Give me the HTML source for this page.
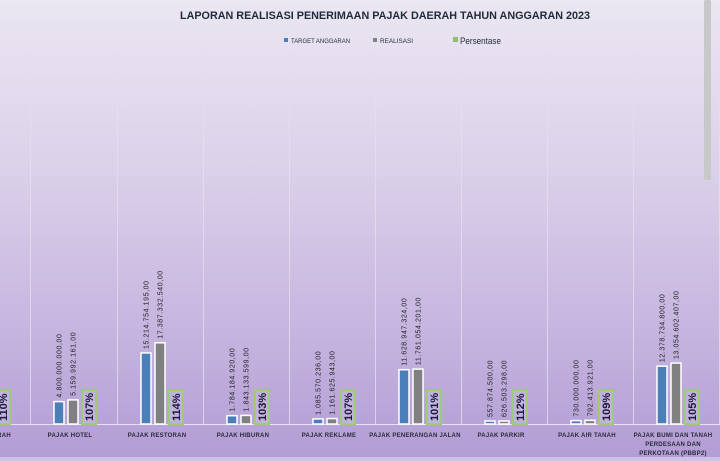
<!DOCTYPE html>
<html><head><meta charset="utf-8"><style>
html,body{margin:0;padding:0;width:720px;height:461px;overflow:hidden}
svg{display:block}
text{font-family:"Liberation Sans","DejaVu Sans",sans-serif}
</style></head><body>
<svg width="720" height="461" viewBox="0 0 720 461" xmlns="http://www.w3.org/2000/svg">
<defs>
<linearGradient id="bg" x1="0" y1="0" x2="0" y2="1">
<stop offset="0" stop-color="#ebe6f2"/>
<stop offset="0.35" stop-color="#dcd2ea"/>
<stop offset="0.7" stop-color="#c7b6e0"/>
<stop offset="1" stop-color="#b29cd4"/>
</linearGradient>
</defs>
<rect width="720" height="461" fill="url(#bg)"/>
<rect x="0" y="457" width="720" height="4" fill="#cfc0e6"/>
<text x="180" y="19" font-size="11" font-weight="bold" fill="#1f2a3a" textLength="410" lengthAdjust="spacingAndGlyphs">LAPORAN REALISASI PENERIMAAN PAJAK DAERAH TAHUN ANGGARAN 2023</text>
<rect x="284" y="38" width="4" height="4" fill="#4a7fb8"/>
<text x="291" y="43" font-size="6.5" fill="#1f2a3a" textLength="59" lengthAdjust="spacingAndGlyphs">TARGET ANGGARAN</text>
<rect x="373" y="38" width="4" height="4" fill="#808080"/>
<text x="380" y="43" font-size="6.5" fill="#1f2a3a" textLength="33" lengthAdjust="spacingAndGlyphs">REALISASI</text>
<rect x="453" y="37" width="5" height="5" fill="#8fc068"/>
<text x="460" y="44" font-size="9" fill="#1f2a3a" textLength="41" lengthAdjust="spacingAndGlyphs">Persentase</text>
<g stroke="#e6def0" stroke-width="1" opacity="0.8">
<line x1="30.5" y1="50" x2="30.5" y2="424"/><line x1="117.5" y1="50" x2="117.5" y2="424"/>
<line x1="203.5" y1="50" x2="203.5" y2="424"/><line x1="289.5" y1="50" x2="289.5" y2="424"/>
<line x1="375.5" y1="50" x2="375.5" y2="424"/><line x1="461.5" y1="50" x2="461.5" y2="424"/>
<line x1="547.5" y1="50" x2="547.5" y2="424"/><line x1="633.5" y1="50" x2="633.5" y2="424"/>
<line x1="719.5" y1="50" x2="719.5" y2="424"/>
</g>
<line x1="0" y1="424.5" x2="720" y2="424.5" stroke="#e8e0f2" stroke-width="1"/>
<rect x="704" y="0" width="7" height="180" rx="2" fill="#c8c8c8"/>
<g id="bars"></g>
</svg>
<script>
var d=[[-56,"PAJAK DAERAH",null,null,"",  "", "110%"],
[30,"PAJAK HOTEL",4.8,5.16,"4.800.000.000,00","5.159.992.161,00","107%"],
[117,"PAJAK RESTORAN",15.21,17.39,"15.214.754.195,00","17.387.332.540,00","114%"],
[203,"PAJAK HIBURAN",1.78,1.84,"1.784.184.920,00","1.843.133.599,00","103%"],
[289,"PAJAK REKLAME",1.09,1.16,"1.085.570.236,00","1.161.625.943,00","107%"],
[375,"PAJAK PENERANGAN JALAN",11.63,11.76,"11.628.947.324,00","11.761.054.201,00","101%"],
[461,"PAJAK PARKIR",0.56,0.63,"557.874.500,00","626.503.298,00","112%"],
[547,"PAJAK AIR TANAH",0.73,0.79,"730.000.000,00","792.413.921,00","109%"],
[633,"PAJAK BUMI DAN TANAH|PERDESAAN DAN|PERKOTAAN (PBBP2)",12.38,13.05,"12.378.734.800,00","13.054.602.407,00","105%"]];
var s="",k=4.67,B=424;
d.forEach(function(g){var x=g[0];
 [[g[2],24,"#4a7fb8",g[4]],[g[3],38,"#808080",g[5]]].forEach(function(b){
  if(b[0]==null)return;var h=Math.max(3,b[0]*k);var bx=x+b[1];
  s+='<rect x="'+bx+'" y="'+(B-h)+'" width="10" height="'+h+'" fill="'+b[2]+'" stroke="#fff" stroke-width="1.5"/>';
  var cx=bx+5,ty=B-h-4;
  s+='<text transform="translate('+(cx+2.5)+','+ty+') rotate(-90)" font-size="7" fill="#222" letter-spacing="0.6">'+b[3]+'</text>';
 });
 var px=x+52;
 s+='<rect x="'+px+'" y="390" width="14" height="34" fill="#c3b3dc" stroke="#9ccc7a" stroke-width="2"/>';
 s+='<text transform="translate('+(px+11)+',421) rotate(-90)" font-size="11" font-weight="bold" fill="#1a1a3a">'+g[6]+'</text>';
 var ls=g[1].split("|");
 ls.forEach(function(l,i){
  if(g[2]==null){s+='<text x="11" y="437" text-anchor="end" font-size="6" font-weight="bold" fill="#2a2a3a" letter-spacing="0.3">'+l+'</text>';return;}
  s+='<text x="'+(x+40)+'" y="'+(437+i*9)+'" text-anchor="middle" font-size="6" font-weight="bold" fill="#2a2a3a" letter-spacing="0.25">'+l+'</text>';});
});
document.getElementById("bars").innerHTML=s;
</script>
</body></html>
